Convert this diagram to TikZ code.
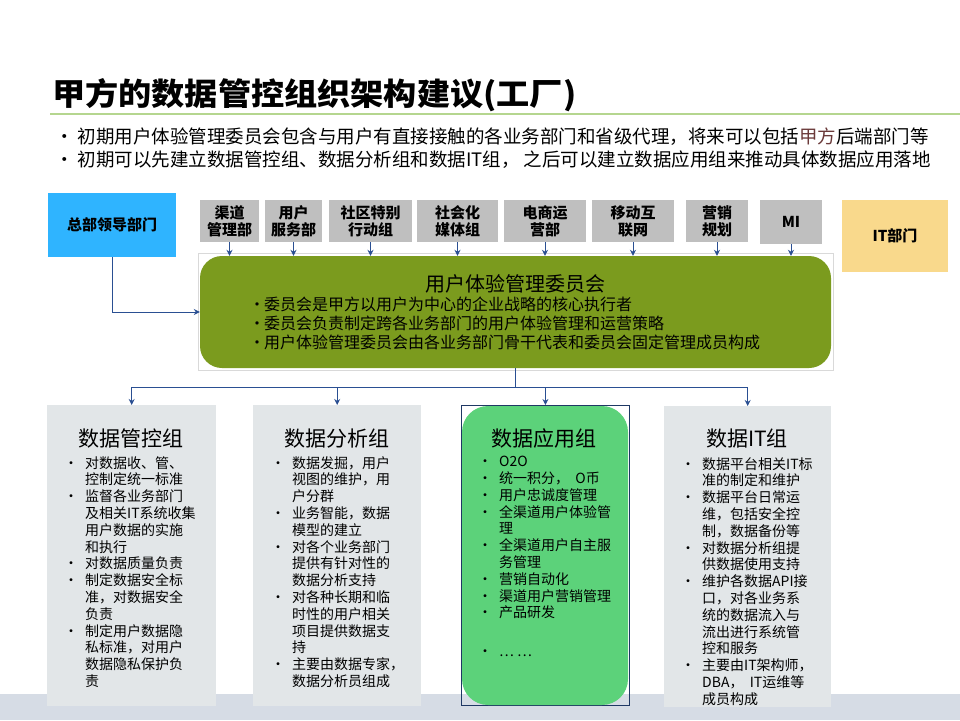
\documentclass[tikz,border=0pt]{standalone}
\usepackage{fontspec}
\setmainfont{Noto Sans CJK SC}
\usetikzlibrary{arrows.meta,calc}
\definecolor{cgray}{HTML}{BFBFBF}
\definecolor{chq}{HTML}{2FB4FF}
\definecolor{cit}{HTML}{F9D98C}
\definecolor{ccomm}{HTML}{7B9B1E}
\definecolor{cbox}{HTML}{E2E6E8}
\definecolor{capp}{HTML}{5CD27A}
\definecolor{cnavy}{HTML}{1F3864}
\definecolor{carrow}{HTML}{2A4F92}
\definecolor{cband}{HTML}{D6DCE5}
\definecolor{cline}{HTML}{B5D68F}
\definecolor{cframe}{HTML}{D9D9D9}
\definecolor{cjia}{HTML}{6B3A3A}
\newcommand{\bu}{\makebox[16pt][l]{\hspace*{-5pt}•}}
\newcommand{\ii}{\hspace*{16pt}}
\begin{document}
\begin{tikzpicture}[x=1pt,y=-1pt,
  grayhdr/.style={fill=cgray, font=\fontsize{15}{17}\selectfont\bfseries, align=center, inner sep=0pt},
  arr/.style={-{Stealth[length=6pt,width=6pt]}, draw=carrow, line width=1pt},
  conn/.style={draw=carrow, line width=1.2pt},
  grpbox/.style={fill=cbox, inner sep=0pt, anchor=north west},
  grptitle/.style={font=\fontsize{21}{21}\selectfont, anchor=base},
  grpbody/.style={font=\fontsize{14}{16.8}\selectfont, align=left, anchor=north west, inner sep=0pt}
]
\useasboundingbox (0,0) rectangle (960,720);
\fill[white] (0,0) rectangle (960,720);
% title
\node[anchor=base west, inner sep=0pt, font=\fontsize{31}{31}\selectfont\bfseries] (title) at (52,105) {\scalebox{1.07}[1]{甲方的数据管控组织架构建议(工厂)}};
\draw[cline, line width=1.2pt] (50,114) -- (960,114);
\node[anchor=north west, inner sep=0pt, align=left, font=\fontsize{18.5}{23}\selectfont] (intro) at (55,128)
 {• 初期用户体验管理委员会包含与用户有直接接触的各业务部门和省级代理，将来可以包括{\color{cjia}甲方}后端部门等\\
  • 初期可以先建立数据管控组、数据分析组和数据IT组，\ 之后可以建立数据应用组来推动具体数据应用落地};
% bottom band
\fill[cband] (0,694) rectangle (960,720);
% top row
\node[fill=chq, minimum width=128, minimum height=64, inner sep=0pt, font=\fontsize{15}{17}\selectfont\bfseries] (hq) at (112,225) {总部领导部门};
\node[fill=cit, minimum width=106, minimum height=72, inner sep=0pt, font=\fontsize{15}{17}\selectfont\bfseries] (itd) at (895,236) {IT部门};
\node[grayhdr, minimum width=59, minimum height=42] (g1) at (229.5,221) {渠道\\管理部};
\node[grayhdr, minimum width=57, minimum height=42] (g2) at (293.5,221) {用户\\服务部};
\node[grayhdr, minimum width=83, minimum height=42] (g3) at (370.5,221) {社区特别\\行动组};
\node[grayhdr, minimum width=81, minimum height=42] (g4) at (457.5,221) {社会化\\媒体组};
\node[grayhdr, minimum width=82, minimum height=42] (g5) at (545,221) {电商运\\营部};
\node[grayhdr, minimum width=82, minimum height=42] (g6) at (633,221) {移动互\\联网};
\node[grayhdr, minimum width=62, minimum height=42] (g7) at (717,221) {营销\\规划};
\node[grayhdr, minimum width=62, minimum height=44] (g8) at (791,222) {MI};
% committee
\draw[cframe, line width=0.6pt] (198,253) rectangle (833,370);
\node[fill=ccomm, rounded corners=22pt, minimum width=631, minimum height=112, inner sep=0pt] (comm) at (515.5,312) {};
\node[font=\fontsize{20}{20}\selectfont, anchor=base, inner sep=0pt] (commt) at (515,291) {用户体验管理委员会};
\node[anchor=north west, inner sep=0pt, align=left, font=\fontsize{16}{19}\selectfont] (commb) at (249,297)
 {\makebox[15pt][l]{•}委员会是甲方以用户为中心的企业战略的核心执行者\\
  \makebox[15pt][l]{•}委员会负责制定跨各业务部门的用户体验管理和运营策略\\
  \makebox[15pt][l]{•}用户体验管理委员会由各业务部门骨干代表和委员会固定管理成员构成};
\foreach \g in {g1,g2,g3,g4,g5,g6,g7,g8}
  \draw[arr] (\g.south) -- (\g.south |- comm.north);
\draw[arr] (hq.south) |- (comm.west);
% bottom groups
\node[grpbox, minimum width=169, minimum height=301] (b1) at (47,405) {};
\node[grpbox, minimum width=168, minimum height=301] (b2) at (253,405) {};
\node[draw=cnavy, line width=0.8pt, inner sep=0pt, anchor=north west, minimum width=168, minimum height=300] (b3) at (461,405) {};
\fill[capp, rounded corners=26pt] (462,406) rectangle (628,705);
\node[grpbox, minimum width=167, minimum height=301] (b4) at (664,406) {};
% connectors
\coordinate (bus) at ($(comm.south)+(0,19)$);
\draw[conn] (comm.south) -- (bus);
\draw[conn] (b1.north |- bus) -- (b4.north |- bus);
\foreach \b in {b1,b2,b3,b4}
  \draw[arr] (\b.north |- bus) -- (\b.north);
% group titles
\node[grptitle] (t1) at (131,446) {数据管控组};
\node[grptitle] (t2) at (337,446) {数据分析组};
\node[grptitle] (t3) at (544,446) {数据应用组};
\node[grptitle] (t4) at (747,446) {数据IT组};
% group bodies
\node[grpbody] (d1) at (69,456)
 {\bu 对数据收、管、\\ \ii 控制定统一标准\\
  \bu 监督各业务部门\\ \ii 及相关IT系统收集\\ \ii 用户数据的实施\\ \ii 和执行\\
  \bu 对数据质量负责\\
  \bu 制定数据安全标\\ \ii 准，对数据安全\\ \ii 负责\\
  \bu 制定用户数据隐\\ \ii 私标准，对用户\\ \ii 数据隐私保护负\\ \ii 责};
\node[grpbody] (d2) at (276,456)
 {\bu 数据发掘，用户\\ \ii 视图的维护，用\\ \ii 户分群\\
  \bu 业务智能，数据\\ \ii 模型的建立\\
  \bu 对各个业务部门\\ \ii 提供有针对性的\\ \ii 数据分析支持\\
  \bu 对各种长期和临\\ \ii 时性的用户相关\\ \ii 项目提供数据支\\ \ii 持\\
  \bu 主要由数据专家，\\ \ii 数据分析员组成};
\node[grpbody] (d3) at (483,456)
 {\bu O2O\\
  \bu 统一积分，\ \ O币\\
  \bu 用户忠诚度管理\\
  \bu 全渠道用户体验管\\ \ii 理\\
  \bu 全渠道用户自主服\\ \ii 务管理\\
  \bu 营销自动化\\
  \bu 渠道用户营销管理\\
  \bu 产品研发\\[22pt]
  \bu … …};
\node[grpbody] (d4) at (686,457)
 {\bu 数据平台相关IT标\\ \ii 准的制定和维护\\
  \bu 数据平台日常运\\ \ii 维，包括安全控\\ \ii 制，数据备份等\\
  \bu 对数据分析组提\\ \ii 供数据使用支持\\
  \bu 维护各数据API接\\ \ii 口，对各业务系\\ \ii 统的数据流入与\\ \ii 流出进行系统管\\ \ii 控和服务\\
  \bu 主要由IT架构师，\\ \ii DBA，\ \ IT运维等\\ \ii 成员构成};
\end{tikzpicture}
\end{document}
